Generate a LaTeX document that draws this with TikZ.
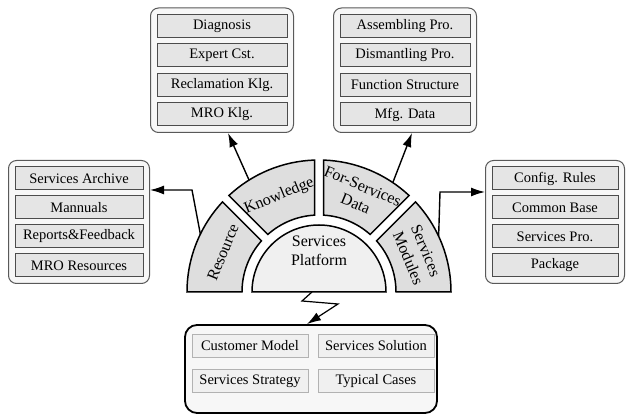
\documentclass[tikz,border=0pt]{standalone}
\usepackage{fontspec}
\setmainfont{Liberation Serif}
\usetikzlibrary{arrows.meta,fit,backgrounds}

\tikzset{
  itemBox/.style={draw=black!70, line width=1pt, fill=black!10, minimum width=128pt,
    minimum height=23pt, inner sep=0pt, font=\fontsize{14.5}{16}\selectfont},
  cellBox/.style={draw=black!30, fill=black!6, minimum width=116pt, minimum height=23pt,
    inner sep=0pt, font=\fontsize{14.5}{16}\selectfont},
  groupBox/.style={draw=black!65, line width=1pt, rounded corners=8pt, fill=black!3, inner sep=6pt},
  sectorPart/.style={draw=black, line width=1.5pt, fill=black!13},
  sectorText/.style={font=\fontsize{16}{19}\selectfont, align=center, inner sep=1pt},
  link/.style={-{Latex[length=14pt,width=9pt]}, line width=1.4pt},
}

\begin{document}
\begin{tikzpicture}[x=1pt,y=1pt]
\useasboundingbox (0,0) rectangle (627,415);

% centre of the half ring
\coordinate (C) at (319,123);

% services platform
\draw[sectorPart, fill=black!6] (252,123) arc[start angle=180,end angle=0,radius=67] -- cycle;
\node[sectorText] (platform) at (319,164) {Services\\Platform};

% ring sectors
\foreach \a/\b in {180/135,135/90,90/45,45/0}{
  \pgfmathsetmacro\ao{\a==180 ? 180 : \a-asin(4.5/132)}
  \pgfmathsetmacro\bo{\b==0 ? 0 : \b+asin(4.5/132)}
  \pgfmathsetmacro\ai{\a==180 ? 180 : \a-asin(4.5/77)}
  \pgfmathsetmacro\bi{\b==0 ? 0 : \b+asin(4.5/77)}
  \draw[sectorPart] ([shift={(\ao:132)}]C) arc[start angle=\ao,end angle=\bo,radius=132]
    -- ([shift={(\bi:77)}]C) arc[start angle=\bi,end angle=\ai,radius=77] -- cycle;
}

\node[sectorText, rotate=67.5] (resource) at ([shift={(157.5:104)}]C) {Resource};
\node[sectorText, rotate=22.5] (knowledge) at ([shift={(112.5:104)}]C) {Knowledge};
\node[sectorText, rotate=-22.5] (data) at ([shift={(67.5:105)}]C) {For-Services\\Data};
\node[sectorText, rotate=-67.5] (modules) at ([shift={(21:105)}]C) {Services\\Modules};

% knowledge group
\foreach \t [count=\i] in {Diagnosis, Expert Cst., Reclamation Klg., MRO Klg.}
  \node[itemBox, minimum width=130pt] (k\i) at (222,{389-29.5*(\i-1)}) {\t};

% for-services data group
\foreach \t [count=\i] in {Assembling Pro., Dismantling Pro., Function Structure, Mfg. Data}
  \node[itemBox, minimum width=130pt] (d\i) at (405,{389-29.5*(\i-1)}) {\t};

% resource group
\foreach \t [count=\i] in {Services Archive, Mannuals, Reports\&Feedback, MRO Resources}
  \node[itemBox] (r\i) at (79,{236.5-29*(\i-1)}) {\t};

% services modules group
\foreach \t [count=\i] in {Config. Rules, Common Base, Services Pro., Package}
  \node[itemBox, minimum width=126pt] (m\i) at (555,{236.5-29*(\i-1)}) {\t};

\begin{scope}[on background layer]
  \node[groupBox, fit=(k1)(k4)] (kbox) {};
  \node[groupBox, fit=(d1)(d4)] (dbox) {};
  \node[groupBox, fit=(r1)(r4)] (rbox) {};
  \node[groupBox, fit=(m1)(m4)] (mbox) {};
\end{scope}

% tool box below the platform
\node[draw, line width=1.8pt, rounded corners=12pt, fill=black!3, minimum width=252pt,
  minimum height=88pt] (tool) at (311,46) {};
\node[cellBox] (customer) at (250,69) {Customer Model};
\node[cellBox] (solution) at (376,69) {Services Solution};
\node[cellBox] (strategy) at (250,34) {Services Strategy};
\node[cellBox] (cases) at (376,34) {Typical Cases};

% connectors
\coordinate (resFoot) at ([shift={(154:132)}]C);
\coordinate (resBend) at (192,225);
\draw[link] (resFoot) -- (resBend) -- (resBend -| rbox.east);

\coordinate (modFoot) at ([shift={(25:132)}]C);
\coordinate (modBend) at (440,223);
\draw[link] (modFoot) -- (modBend) -- (modBend -| mbox.west);

\coordinate (klgFoot) at ([shift={(122:132)}]C);
\draw[link] (klgFoot) -- ([xshift=6pt]kbox.south);

\coordinate (dataFoot) at ([shift={(56:132)}]C);
\draw[link] (dataFoot) -- ([xshift=7pt]dbox.south);

% lightning link to the tool box
\coordinate (boltTop) at (312,123);
\draw[link, line width=1.2pt] (boltTop) -- ++(-10,-9) -- ++(36,-3) -- ([xshift=-4pt]tool.north);

\end{tikzpicture}
\end{document}
